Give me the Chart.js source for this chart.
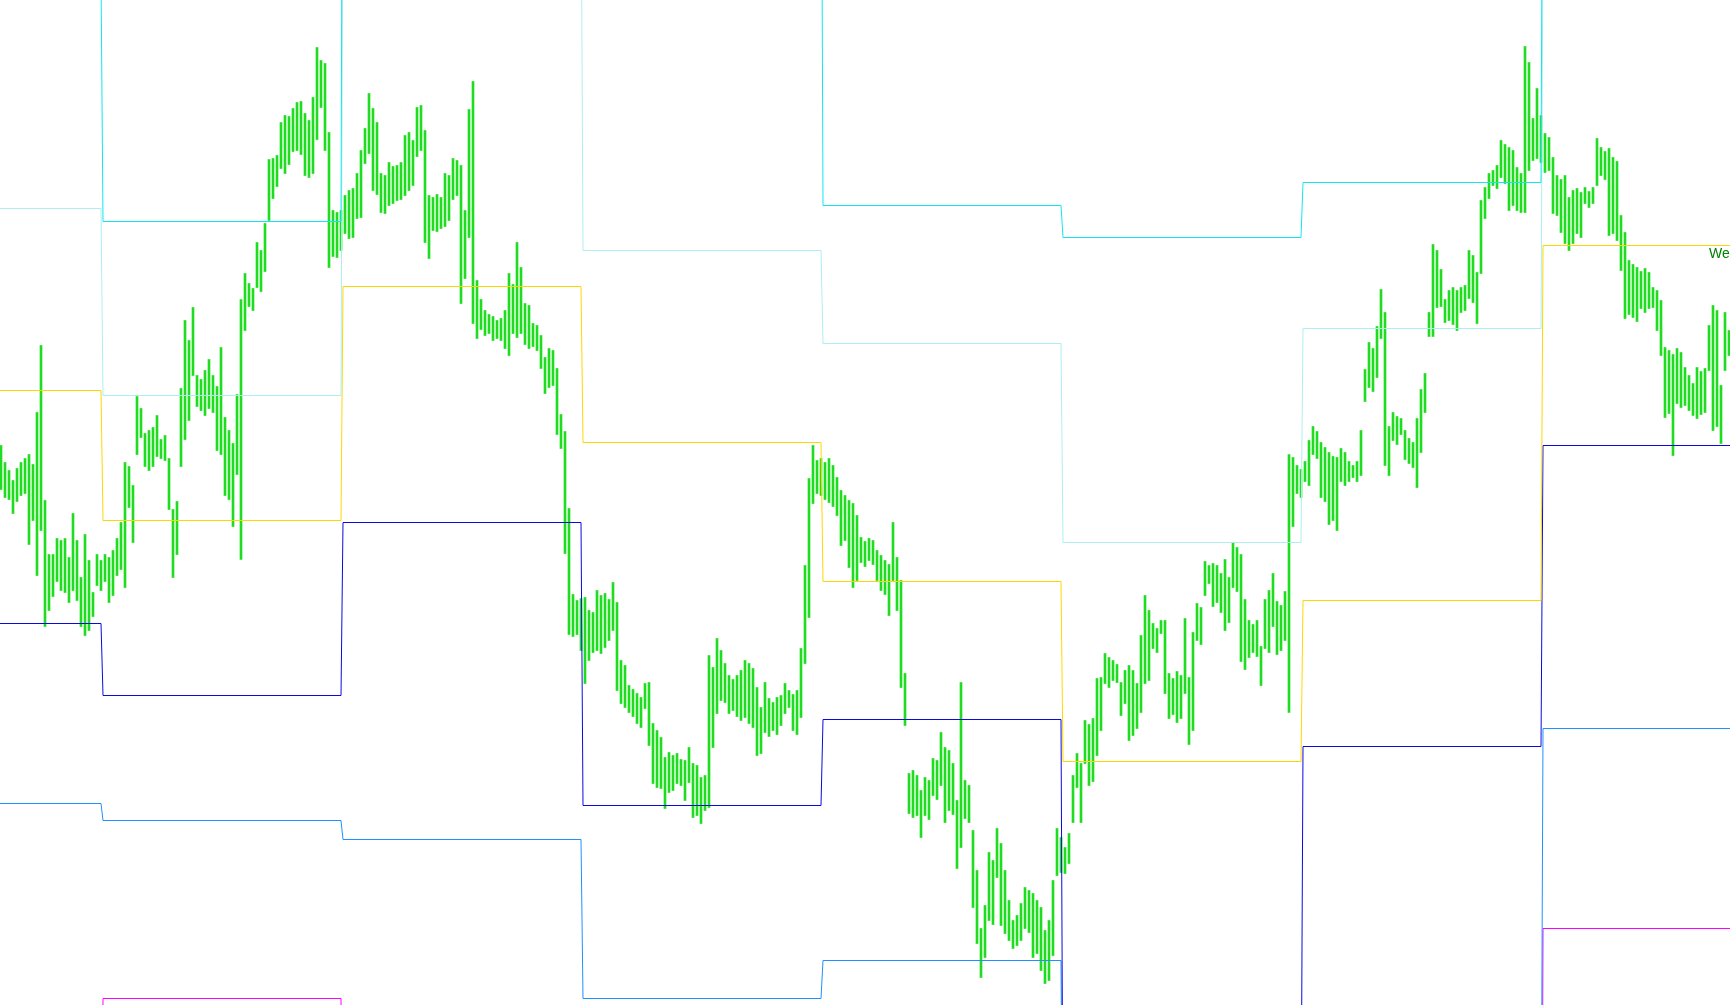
<!DOCTYPE html>
<html>
<head>
<meta charset="utf-8">
<title>Weekly pivots</title>
<script src="https://cdn.jsdelivr.net/npm/chart.js@4.4.1/dist/chart.umd.min.js"></script>
<style>
    html, body { margin: 0; padding: 0; background: #ffffff; overflow: hidden; }
    #wrap { position: relative; width: 1730px; height: 1005px; }
</style>
</head>
<body>
<div id="wrap"><canvas id="pivotChart"></canvas></div>
<script>
// H1 bars, one value every two hours (high / low of the pair)
const highs = [
    1.3555,1.3538,1.3530,1.3520,1.3532,1.3538,1.3542,1.3546,1.3536,1.3588,1.3655,1.3500,1.3446,1.3446,1.3462,1.3460,1.3462,1.3443,1.3487,1.3460,
    1.3423,1.3466,1.3440,1.3408,1.3446,1.3440,1.3446,1.3443,1.3450,1.3462,1.3478,1.3538,1.3534,1.3515,1.3604,1.3592,1.3567,1.3570,1.3573,1.3585,
    1.3561,1.3565,1.3542,1.3491,1.3499,1.3612,1.3680,1.3660,1.3693,1.3625,1.3621,1.3630,1.3641,1.3625,1.3614,1.3653,1.3583,1.3570,1.3557,1.3606,
    1.3701,1.3727,1.3717,1.3712,1.3758,1.3750,1.3777,1.3841,1.3842,1.3845,1.3878,1.3885,1.3884,1.3892,1.3898,1.3899,1.3887,1.3880,1.3903,1.3953,
    1.3940,1.3937,1.3868,1.3790,1.3788,1.3790,1.3805,1.3810,1.3812,1.3827,1.3850,1.3872,1.3907,1.3892,1.3878,1.3827,1.3825,1.3838,1.3834,1.3835,
    1.3838,1.3865,1.3868,1.3860,1.3893,1.3895,1.3870,1.3805,1.3803,1.3806,1.3803,1.3827,1.3825,1.3842,1.3840,1.3835,1.3790,1.3891,1.3919,1.3720,
    1.3701,1.3690,1.3686,1.3684,1.3680,1.3682,1.3690,1.3727,1.3716,1.3758,1.3733,1.3697,1.3695,1.3677,1.3675,1.3665,1.3643,1.3652,1.3650,1.3632,
    1.3586,1.3569,1.3492,1.3406,1.3400,1.3402,1.3403,1.3390,1.3388,1.3410,1.3405,1.3407,1.3401,1.3418,1.3398,1.3340,1.3335,1.3315,1.3311,1.3307,
    1.3303,1.3317,1.3318,1.3277,1.3270,1.3263,1.3243,1.3248,1.3245,1.3247,1.3241,1.3240,1.3253,1.3237,1.3235,1.3223,1.3225,1.3345,1.3333,1.3362,
    1.3350,1.3337,1.3325,1.3321,1.3325,1.3330,1.3340,1.3337,1.3332,1.3313,1.3293,1.3318,1.3302,1.3298,1.3303,1.3305,1.3317,1.3310,1.3306,1.3310,
    1.3352,1.3435,1.3522,1.3555,1.3540,1.3542,1.3538,1.3542,1.3535,1.3523,1.3510,1.3505,1.3500,1.3497,1.3485,1.3463,1.3459,1.3462,1.3460,1.3450,
    1.3445,1.3440,1.3436,1.3478,1.3443,1.3420,1.3327,1.3227,1.3230,1.3225,1.3210,1.3223,1.3220,1.3242,1.3240,1.3268,1.3253,1.3250,1.3237,1.3200,
    1.3318,1.3220,1.3215,1.3170,1.3130,1.3072,1.3095,1.3148,1.3140,1.3172,1.3157,1.3130,1.3100,1.3080,1.3085,1.3097,1.3113,1.3110,1.3107,1.3100,
    1.3093,1.3070,1.3080,1.3120,1.3172,1.3163,1.3153,1.3167,1.3225,1.3247,1.3237,1.3280,1.3276,1.3282,1.3322,1.3323,1.3347,1.3343,1.3340,1.3336,
    1.3318,1.3330,1.3335,1.3330,1.3317,1.3365,1.3405,1.3390,1.3377,1.3372,1.3380,1.3380,1.3327,1.3322,1.3329,1.3325,1.3382,1.3323,1.3368,1.3397,
    1.3393,1.3439,1.3435,1.3437,1.3435,1.3427,1.3441,1.3423,1.3458,1.3453,1.3446,1.3401,1.3380,1.3376,1.3380,1.3354,1.3401,1.3410,1.3427,1.3399,
    1.3395,1.3409,1.3546,1.3543,1.3535,1.3531,1.3539,1.3560,1.3574,1.3569,1.3558,1.3553,1.3548,1.3544,1.3543,1.3552,1.3548,1.3539,1.3535,1.3539,
    1.3570,1.3631,1.3658,1.3652,1.3674,1.3711,1.3688,1.3574,1.3588,1.3584,1.3582,1.3570,1.3562,1.3558,1.3582,1.3611,1.3627,1.3688,1.3756,1.3750,
    1.3731,1.3701,1.3710,1.3713,1.3710,1.3713,1.3715,1.3750,1.3745,1.3728,1.3800,1.3813,1.3827,1.3830,1.3835,1.3860,1.3856,1.3853,1.3850,1.3833,
    1.3827,1.3954,1.3938,1.3882,1.3912,1.3885,1.3867,1.3863,1.3843,1.3825,1.3821,1.3825,1.3803,1.3810,1.3812,1.3808,1.3813,1.3809,1.3813,1.3862,
    1.3853,1.3849,1.3852,1.3843,1.3839,1.3785,1.3768,1.3740,1.3736,1.3733,1.3729,1.3732,1.3728,1.3713,1.3710,1.3700,1.3653,1.3650,1.3646,1.3652,
    1.3648,1.3633,1.3625,1.3617,1.3633,1.3629,1.3632,1.3675,1.3695,1.3690,1.3615,1.3688,1.3670
];
const lows = [
    1.3511,1.3503,1.3501,1.3487,1.3499,1.3505,1.3507,1.3456,1.3480,1.3425,1.3470,1.3374,1.3390,1.3404,1.3419,1.3410,1.3408,1.3398,1.3410,1.3400,
    1.3374,1.3365,1.3370,1.3384,1.3415,1.3410,1.3419,1.3398,1.3405,1.3425,1.3431,1.3413,1.3493,1.3458,1.3546,1.3563,1.3534,1.3530,1.3534,1.3544,
    1.3542,1.3540,1.3491,1.3423,1.3446,1.3534,1.3561,1.3580,1.3625,1.3594,1.3590,1.3585,1.3592,1.3588,1.3550,1.3546,1.3505,1.3501,1.3474,1.3526,
    1.3441,1.3670,1.3694,1.3690,1.3713,1.3709,1.3729,1.3780,1.3802,1.3814,1.3832,1.3827,1.3836,1.3849,1.3850,1.3846,1.3825,1.3823,1.3827,1.3861,
    1.3893,1.3850,1.3733,1.3744,1.3743,1.3750,1.3767,1.3762,1.3763,1.3782,1.3783,1.3837,1.3847,1.3810,1.3806,1.3788,1.3787,1.3795,1.3797,1.3800,
    1.3801,1.3805,1.3810,1.3815,1.3844,1.3850,1.3758,1.3742,1.3770,1.3769,1.3772,1.3774,1.3780,1.3801,1.3805,1.3697,1.3722,1.3763,1.3677,1.3662,
    1.3671,1.3665,1.3667,1.3660,1.3662,1.3660,1.3652,1.3645,1.3667,1.3663,1.3667,1.3656,1.3652,1.3654,1.3650,1.3632,1.3607,1.3613,1.3615,1.3566,
    1.3552,1.3447,1.3366,1.3364,1.3366,1.3350,1.3317,1.3340,1.3348,1.3350,1.3347,1.3353,1.3360,1.3370,1.3310,1.3297,1.3293,1.3288,1.3284,1.3277,
    1.3273,1.3292,1.3255,1.3217,1.3213,1.3212,1.3192,1.3208,1.3210,1.3217,1.3215,1.3200,1.3218,1.3183,1.3185,1.3177,1.3190,1.3193,1.3253,1.3287,
    1.3300,1.3298,1.3287,1.3290,1.3284,1.3280,1.3283,1.3277,1.3273,1.3245,1.3247,1.3268,1.3264,1.3270,1.3266,1.3275,1.3287,1.3293,1.3270,1.3266,
    1.3283,1.3337,1.3383,1.3497,1.3507,1.3505,1.3501,1.3498,1.3494,1.3485,1.3455,1.3460,1.3433,1.3413,1.3420,1.3438,1.3434,1.3440,1.3436,1.3420,
    1.3410,1.3406,1.3385,1.3420,1.3390,1.3313,1.3275,1.3187,1.3183,1.3185,1.3163,1.3185,1.3181,1.3205,1.3201,1.3215,1.3178,1.3190,1.3186,1.3132,
    1.3153,1.3182,1.3178,1.3093,1.3057,1.3023,1.3043,1.3080,1.3076,1.3123,1.3075,1.3067,1.3060,1.3052,1.3055,1.3060,1.3072,1.3068,1.3043,1.3047,
    1.3030,1.3017,1.3020,1.3045,1.3125,1.3128,1.3127,1.3137,1.3178,1.3213,1.3178,1.3237,1.3215,1.3219,1.3245,1.3270,1.3317,1.3313,1.3320,1.3318,
    1.3285,1.3297,1.3260,1.3265,1.3272,1.3288,1.3317,1.3320,1.3352,1.3348,1.3367,1.3307,1.3282,1.3286,1.3278,1.3282,1.3307,1.3256,1.3270,1.3360,
    1.3356,1.3405,1.3417,1.3394,1.3398,1.3388,1.3370,1.3378,1.3413,1.3409,1.3339,1.3331,1.3343,1.3348,1.3344,1.3315,1.3352,1.3348,1.3374,1.3346,
    1.3350,1.3360,1.3288,1.3474,1.3507,1.3503,1.3519,1.3515,1.3546,1.3542,1.3503,1.3499,1.3476,1.3480,1.3470,1.3519,1.3515,1.3519,1.3523,1.3519,
    1.3525,1.3599,1.3613,1.3609,1.3623,1.3662,1.3535,1.3525,1.3560,1.3556,1.3566,1.3541,1.3537,1.3533,1.3513,1.3548,1.3588,1.3664,1.3664,1.3693,
    1.3694,1.3678,1.3680,1.3676,1.3670,1.3688,1.3690,1.3702,1.3698,1.3677,1.3727,1.3782,1.3802,1.3815,1.3812,1.3823,1.3817,1.3790,1.3795,1.3790,
    1.3788,1.3788,1.3830,1.3840,1.3842,1.3838,1.3828,1.3830,1.3787,1.3785,1.3768,1.3757,1.3750,1.3757,1.3767,1.3763,1.3797,1.3793,1.3797,1.3815,
    1.3825,1.3821,1.3765,1.3767,1.3760,1.3730,1.3682,1.3686,1.3683,1.3679,1.3692,1.3688,1.3692,1.3693,1.3670,1.3645,1.3583,1.3587,1.3545,1.3597,
    1.3593,1.3595,1.3590,1.3585,1.3582,1.3586,1.3588,1.3630,1.3570,1.3574,1.3557,1.3630,1.3645
];

// weekly pivot levels, first and last H1 bar index of each week
const weekStart = [-1, 51, 171, 291, 411, 531, 651, 771];
const weekEnd = [50, 170, 290, 410, 530, 650, 770, 866];
const r2 = [1.4025, 1.3779, 1.4400, 1.4300, 1.3795, 1.3763, 1.3818, 1.4300];
const r1 = [1.3792, 1.3605, 1.4150, 1.3750, 1.3657, 1.3458, 1.3672, 1.4060];
const pivot = [1.3610, 1.3480, 1.3714, 1.3558, 1.3419, 1.3239, 1.3400, 1.3755];
const s1 = [1.3377, 1.3305, 1.3478, 1.3195, 1.3281, 1.2850, 1.3254, 1.3555];
const s2 = [1.3197, 1.3180, 1.3161, 1.3002, 1.3040, 1.2750, 1.2800, 1.3272];
const s3 = [1.2700, 1.3002, 1.2600, 1.2650, 1.2600, 1.2550, 1.2500, 1.3072];

document.addEventListener('DOMContentLoaded', function() {
    const count = Math.min(highs.length, lows.length);
    const priceBars = [];
    for (let j = 0; j < count; j++) {
        priceBars.push({ x: j * 2, y: [lows[j], highs[j]] });
    }

    function levelPoints(levels) {
        const pts = [];
        levels.forEach(function(v, k) {
            pts.push({ x: weekStart[k], y: v });
            pts.push({ x: weekEnd[k], y: v });
        });
        return pts;
    }

    function levelLine(label, levels, color) {
        return {
            type: 'line',
            label: label,
            data: levelPoints(levels),
            borderColor: color,
            borderWidth: 1,
            pointRadius: 0,
            tension: 0,
            fill: false,
            order: 1
        };
    }

    // label at the right edge, under the last pivot line
    const pivotLabel = {
        id: 'pivotLabel',
        afterDatasetsDraw(chart) {
            const ctx = chart.ctx;
            const y = chart.scales.y.getPixelForValue(pivot[pivot.length - 1]);
            ctx.save();
            ctx.font = '14px "Liberation Sans", Arial, sans-serif';
            ctx.fillStyle = '#008000';
            ctx.textBaseline = 'alphabetic';
            ctx.fillText('Weekly Pivot', chart.chartArea.right - 21, y + 12);
            ctx.restore();
        }
    };

    const ctx = document.getElementById('pivotChart').getContext('2d');
    new Chart(ctx, {
        type: 'bar',
        data: {
            datasets: [
                levelLine('R2', r2, '#12e6ee'),
                levelLine('R1', r1, '#afeeee'),
                levelLine('Pivot', pivot, '#ffd700'),
                levelLine('S1', s1, '#0a0ae0'),
                levelLine('S2', s2, '#1e90ff'),
                levelLine('S3', s3, '#ff00ff'),
                {
                    type: 'bar',
                    label: 'Price',
                    data: priceBars,
                    backgroundColor: '#20dc20',
                    borderWidth: 0,
                    barThickness: 2,
                    order: 5
                }
            ]
        },
        options: {
            responsive: true,
            maintainAspectRatio: false,
            animation: false,
            layout: { padding: 0 },
            plugins: {
                legend: { display: false },
                tooltip: { enabled: false }
            },
            scales: {
                x: { type: 'linear', min: -0.5, max: 864.5, offset: false, display: false },
                y: { type: 'linear', min: 1.29955, max: 1.40005, display: false }
            }
        },
        plugins: [pivotLabel]
    });
});
</script>
</body>
</html>
